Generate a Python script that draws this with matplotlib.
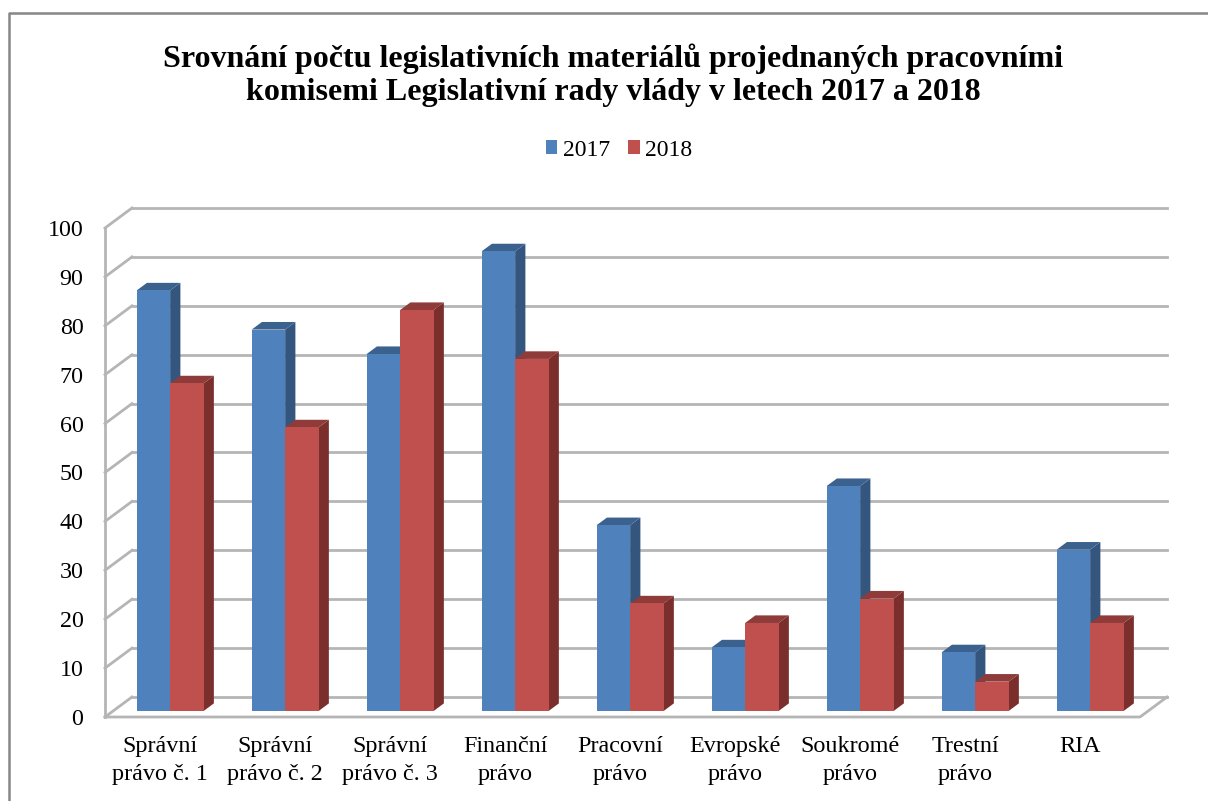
#!/usr/bin/env python3

import matplotlib
matplotlib.use("Agg")
import matplotlib.pyplot as plt
from matplotlib.lines import Line2D
import numpy as np

TITLE = "Srovnání počtu legislativních materiálů projednaných pracovními\nkomisemi Legislativní rady vlády v letech 2017 a 2018"
CATEGORIES = ["Správní\nprávo č. 1", "Správní\nprávo č. 2", "Správní\nprávo č. 3",
              "Finanční\nprávo", "Pracovní\nprávo", "Evropské\nprávo",
              "Soukromé\nprávo", "Trestní\nprávo", "RIA\n "]
VALUES_2017 = [86, 78, 73, 94, 38, 13, 46, 12, 33]
VALUES_2018 = [67, 58, 82, 72, 22, 18, 23, 6, 18]
GRID_VALUES = [0, 10, 20, 30, 40, 50, 60, 70, 80, 90, 100]

W, H = 1208, 801
# Plot box of the front plane, in pixels.
LEFT, RIGHT, TOP, BOTTOM = 105, 1140, 228, 717
GRID_COLOR = "#b5b5b5"

plt.rcParams['font.family'] = ['Liberation Serif', 'DejaVu Serif']

fig = plt.figure(figsize=(W / 100, H / 100), dpi=100)
ax = fig.add_axes([LEFT / W, 1 - BOTTOM / H, (RIGHT - LEFT) / W, (BOTTOM - TOP) / H])
ax.set_xlim(0, len(CATEGORIES))
ax.set_ylim(0, 100)
for s in ax.spines.values():
    s.set_visible(False)

# Fake 3D: how far the back wall is shifted, in data units.
depthX = 27 / 115
depthY = 20 / 4.89
barFront = 0.30
barBack = 0.68
barWidth = 0.291

# Walls and floor
for v in GRID_VALUES:
    ax.plot([0, depthX], [v, v + depthY], color=GRID_COLOR, lw=2, clip_on=False, zorder=1)
    ax.plot([depthX, len(CATEGORIES) + depthX], [v + depthY, v + depthY],
            color=GRID_COLOR, lw=2, clip_on=False, zorder=1)
ax.plot([0, 0], [0, 100], color=GRID_COLOR, lw=2, clip_on=False, zorder=1)
ax.plot([0, len(CATEGORIES), len(CATEGORIES) + depthX], [0, 0, depthY],
        color=GRID_COLOR, lw=2, clip_on=False, zorder=1)


def drawBars(x, values, color, sideColor, topColor, zorder):
    fx = barFront * depthX
    fy = barFront * depthY
    bx = barBack * depthX
    by = barBack * depthY
    for xi, v in zip(x, values):
        left = xi - barWidth / 2 + fx
        right = xi + barWidth / 2 + fx
        side = [right, right + bx - fx, right + bx - fx, right]
        ax.fill(side, [fy, by, v + by, v + fy], color=sideColor, lw=0, zorder=zorder, clip_on=False)
        top = [left, right, right + bx - fx, left + bx - fx]
        ax.fill(top, [v + fy, v + fy, v + by, v + by], color=topColor, lw=0, zorder=zorder, clip_on=False)
    return ax.bar(x + fx, values, barWidth, bottom=fy, color=color, lw=0, zorder=zorder + 0.5, clip_on=False)


centers = np.arange(len(CATEGORIES)) + 0.5 - 0.004
bars2017 = drawBars(centers - barWidth / 2, VALUES_2017, "#4f81bd", "#34567e", "#3b618f", 3)
bars2018 = drawBars(centers + barWidth / 2, VALUES_2018, "#c0504d", "#7b2f2d", "#8e3b39", 4)

ax.set_xticks(np.arange(len(CATEGORIES)) + 0.48)
ax.set_xticklabels(CATEGORIES, fontsize=17.4, linespacing=1.38)
ax.set_yticks(GRID_VALUES)
ax.tick_params(axis='x', length=0, pad=14)
ax.tick_params(axis='y', length=0, pad=15.5, labelsize=17.3)

fig.text(613 / W, 1 - 75 / H, TITLE, ha='center', va='center', fontsize=23,
         fontweight='bold', linespacing=1.16)

fig.legend([bars2017, bars2018], ["2017", "2018"], loc='center', ncol=2,
           bbox_to_anchor=(619 / W, 1 - 150 / H), frameon=False, fontsize=17,
           handlelength=0.5, handleheight=0.5, handletextpad=0.24, columnspacing=0.75)

# Outer chart frame, only left and top reach into the picture
fig.add_artist(Line2D([9 / W, 9 / W, 1], [0, 1 - 13 / H, 1 - 13 / H], transform=fig.transFigure,
                      color="#868686", lw=1.8))

fig.savefig("out.png", dpi=100)
